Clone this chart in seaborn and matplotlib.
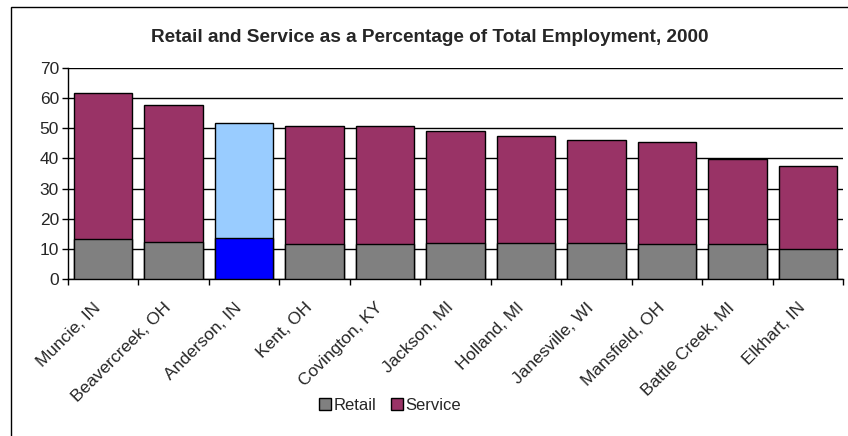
import matplotlib
matplotlib.use("Agg")
import matplotlib.pyplot as plt
from matplotlib.patches import Patch, Rectangle
from matplotlib.ticker import FixedLocator
from matplotlib.transforms import ScaledTranslation
import seaborn as sns
import pandas as pd

cities = ["Muncie, IN", "Beavercreek, OH", "Anderson, IN", "Kent, OH", "Covington, KY",
          "Jackson, MI", "Holland, MI", "Janesville, WI", "Mansfield, OH",
          "Battle Creek, MI", "Elkhart, IN"]
retail = [13.2, 12.4, 13.7, 11.6, 11.6, 12.0, 12.0, 12.0, 11.6, 11.6, 9.8]
service = [48.4, 45.4, 38.2, 39.3, 39.3, 37.2, 35.4, 34.1, 33.9, 28.1, 27.8]
highlight = "Anderson, IN"

df = pd.DataFrame({"city": cities, "retail": retail, "service": service})
df["total"] = df["retail"] + df["service"]

retail_color, service_color = "#808080", "#993366"
hi_retail, hi_service = "#0000FF", "#99CCFF"
top_pal = {c: (hi_service if c == highlight else service_color) for c in cities}
base_pal = {c: (hi_retail if c == highlight else retail_color) for c in cities}

sns.set_style("white")
plt.rcParams["font.family"] = ["Liberation Sans", "DejaVu Sans"]

fig = plt.figure(figsize=(8.48, 4.36), dpi=100)
ax = fig.add_axes([68 / 848, 1 - 279 / 436, (843 - 68) / 848, (279 - 68) / 436])

# total height in the service colour, retail share drawn over its lower part
sns.barplot(data=df, x="city", y="total", hue="city", palette=top_pal, legend=False,
            width=0.83, saturation=1, edgecolor="black", linewidth=1.0, ax=ax, zorder=3)
sns.barplot(data=df, x="city", y="retail", hue="city", palette=base_pal, legend=False,
            width=0.83, saturation=1, edgecolor="black", linewidth=1.0, ax=ax, zorder=4)

ax.set_xlim(-0.5, len(cities) - 0.5)
ax.set_ylim(0, 70)
ax.set_yticks(range(0, 71, 10))
ax.yaxis.grid(True, color="black", linewidth=1.0, zorder=0)
ax.set_axisbelow(True)
ax.set_xlabel("")
ax.set_ylabel("")

for s in ["top", "right"]:
    ax.spines[s].set_visible(False)
for s in ["left", "bottom"]:
    ax.spines[s].set_color("black")
    ax.spines[s].set_linewidth(1.0)

ax.tick_params(axis="y", which="major", left=True, length=4.5, width=1, color="black",
               labelsize=12.5, pad=2)
ax.tick_params(axis="x", which="major", bottom=False, length=0, labelsize=12.5, pad=15)
ax.xaxis.set_minor_locator(FixedLocator([i - 0.5 for i in range(len(cities) + 1)]))
ax.tick_params(axis="x", which="minor", bottom=True, length=4, width=1, color="black")

ax.set_xticks(range(len(cities)))
ax.set_xticklabels(cities, rotation=45, ha="right", rotation_mode="anchor")
shift = ScaledTranslation(-10 / 100, 0, fig.dpi_scale_trans)
for lbl in ax.get_xticklabels():
    lbl.set_transform(lbl.get_transform() + shift)

fig.text(430 / 848, 1 - 37 / 436, "Retail and Service as a Percentage of Total Employment, 2000",
         ha="center", va="center", fontsize=13.7, fontweight="bold")

handles = [Patch(facecolor=retail_color, edgecolor="black", linewidth=1, label="Retail"),
           Patch(facecolor=service_color, edgecolor="black", linewidth=1, label="Service")]
fig.legend(handles=handles, loc="center", bbox_to_anchor=(390 / 848, 1 - 405 / 436),
           ncol=2, frameon=False, fontsize=12, handlelength=0.7, handleheight=0.7,
           handletextpad=0.15, columnspacing=0.9)

fig.add_artist(Rectangle((11 / 848, -0.1), 1.2, (1 - 7 / 436) + 0.1,
                         transform=fig.transFigure, fill=False, edgecolor="black",
                         linewidth=1.0, clip_on=False))

fig.savefig("out.png", dpi=100)
